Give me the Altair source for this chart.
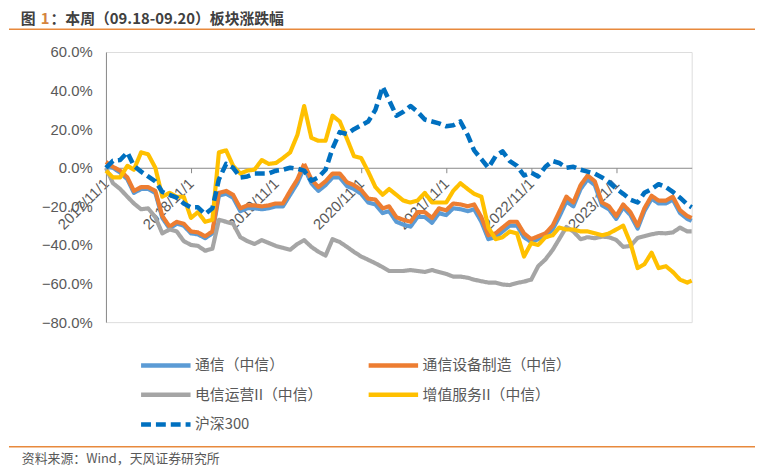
import altair as alt
import pandas as pd

title_pre = "图"
title_num = "1"
title_rest = "：本周（09.18-09.20）板块涨跌幅"
source_text = "资料来源：Wind，天风证券研究所"

series_names = ["通信（中信）", "通信设备制造（中信）", "电信运营II（中信）", "增值服务II（中信）", "沪深300"]
series_colors = ["#5B9BD5", "#ED7D31", "#A5A5A5", "#FFC000", "#0070C0"]
series_dash = [[1, 0], [1, 0], [1, 0], [1, 0], [10, 5]]

# monthly observations 2017-11 ... 2024-09, plus last day 2024-09-20
dates = list(pd.date_range("2017-11-01", periods=83, freq="MS").strftime("%Y/%m/%d")) + ["2024/09/20"]
tick_years = [2017, 2018, 2019, 2020, 2021, 2022, 2023]
y_ticks = [-0.8, -0.6, -0.4, -0.2, 0.0, 0.2, 0.4, 0.6]

tongxin = [0.5, 0, -2.5, -6, -13, -11, -11, -13, -26, -31.5,
           -29, -30, -34, -34.5, -36.5, -34, -14.5, -13.5, -15.5, -22.5,
           -21, -21, -21.5, -21, -20, -20, -14, -8, 0, -8,
           -12, -9, -5, -5, -9.5, -11, -13.5, -18, -19, -23.5,
           -22.5, -28, -29.5, -30.5, -25.5, -25.5, -28.5, -23.5, -24.5, -21,
           -21.5, -22.5, -21.5, -28, -37, -36, -33, -30, -30, -36,
           -38.5, -37, -35.5, -32, -25.5, -17.5, -20, -11, -6, -9,
           -19.5, -21.5, -26.5, -20.5, -24.5, -31.5, -22.5, -16, -18.5, -18.5,
           -16.5, -23.5, -26.5, -27.5]
shebei = [3, 0.5, -1.5, -5, -12, -10, -10, -12, -25, -30.5,
          -28, -29, -33, -33.5, -35.5, -33, -13, -12, -14, -21,
          -19.5, -19.5, -20, -19.5, -18.5, -18.5, -12, -6, 2, -6,
          -10, -7, -3, -3, -7.5, -9, -11.5, -16, -16.5, -21,
          -20, -25.6, -27, -28, -23, -23, -26, -21, -22, -18.5,
          -19, -20, -19, -25.6, -35, -34, -31, -28, -28, -34,
          -37, -35.5, -34, -30, -23, -15, -18, -9, -4, -7,
          -18, -20, -25, -19, -23, -30, -21, -14.5, -17, -17,
          -15, -22, -25, -26]
dianxin = [0, -8, -11, -15, -18.5, -21.5, -21, -25.6, -34, -32,
           -33, -38, -40, -40.5, -43, -42, -27, -28, -29, -36,
           -38, -39.5, -37.5, -39, -40.5, -41.5, -42.5, -39.5, -37.5, -41,
           -43.5, -45.5, -37, -38.5, -41, -43.6, -46, -47.7, -49.5, -51.5,
           -53.5, -53.5, -53.5, -53, -53.5, -54, -53, -54, -55, -56.4,
           -56.4, -57, -58, -58.8, -59.5, -59.5, -60.5, -60.8, -59.7, -59,
           -58, -51, -47.5, -42.6, -37, -30.7, -33, -37, -36, -36.5,
           -35.7, -36, -37.4, -41, -40.5, -36.4, -35.5, -34.5, -33.8, -34,
           -33.5, -31, -33, -33]
zengzhi = [-1.5, -5, -5, 1, -1, 8, 7, 0, -15, -13,
           -15, -15, -26, -23, -28, -27, 8, 9, 1, -3,
           -1.5, -1, 4, 2, 2.5, 5, 8, 17, 32, 15.5,
           14, 14, 27, 24, 15, 6, 5, -2, -10, -14,
           -11, -14, -17, -18, -17, -13, -18, -18, -18, -12,
           -8, -11, -13.5, -15, -31, -37, -36, -33, -34, -46,
           -39, -40, -36, -35, -31, -32, -32, -33, -33, -34,
           -35, -34, -32, -30, -39, -52, -50, -44, -52, -51,
           -54, -58, -59.5, -58.5]
hs300 = [0, 3.6, 4, 8, 1, -2, -4.5, -7, -12.5, -14,
         -15.5, -18.5, -20.5, -20.5, -24, -21, -6, 2, 0, -5,
         -4.5, -3, -3, -3, -1.5, -1, 0, -0.5, -1.5, -6.7,
         -5, -1, 10, 18.5, 17.5, 20, 22, 24, 30, 42,
         35, 27, 29, 32, 29, 25, 24, 23, 21.5, 22,
         24, 17, 9, 4.5, 0, 6, 8.5, 3.5, 1, -4,
         -2.5, -4.5, 0.5, 3.5, 2.5, 0, 0.5, -1, -2, -3,
         -5, -7.5, -10.8, -13.5, -16.5, -18, -13, -11, -8.5, -10,
         -12.5, -15.5, -19, -20.5]

series_values = [tongxin, shebei, dianxin, zengzhi, hs300]

rows = []
for name, vals in zip(series_names, series_values):
    for d, v in zip(dates, vals):
        rows.append({"date": d, "series": name, "value": v / 100.0})
df = pd.DataFrame(rows)

W, H = 592, 273
ZERO_OFFSET = -round(H * 80 / 140)

x_enc = alt.X(
    "date:T",
    scale=alt.Scale(domain=[alt.DateTime(year=2017, month=11, date=1),
                            alt.DateTime(year=2024, month=9, date=20)]),
    axis=alt.Axis(
        values=[alt.DateTime(year=y, month=11, date=1) for y in tick_years],
        format="%Y/%-m/%-d", labelAngle=-45, labelAlign="right", labelBaseline="middle",
        offset=ZERO_OFFSET, tickSize=5, labelPadding=8, grid=False, title=None,
        domainColor="#898989", tickColor="#898989", labelColor="#595959",
        labelFontSize=15, labelFont="Liberation Sans", labelOverlap=False,
    ),
)
y_enc = alt.Y(
    "value:Q",
    scale=alt.Scale(domain=[-0.8, 0.6], nice=False, zero=False),
    axis=alt.Axis(values=y_ticks, format=".1%", ticks=False, labelPadding=14, grid=False,
                  title=None, domainColor="#898989", labelColor="#595959",
                  labelFontSize=15, labelFont="Liberation Sans"),
)
legend = alt.Legend(
    title=None, orient="none", legendX=53, legendY=309, columns=2, direction="horizontal",
    symbolType="M-5,0L5,0", symbolSize=100, symbolStrokeWidth=4.5,
    labelFontSize=15, labelColor="#595959", labelFont="Noto Sans CJK SC",
    columnPadding=37, rowPadding=11, labelOffset=22, labelLimit=400,
)
color_enc = alt.Color("series:N", scale=alt.Scale(domain=series_names, range=series_colors), legend=legend)
dash_enc = alt.StrokeDash("series:N", scale=alt.Scale(domain=series_names, range=series_dash), legend=legend)

base = alt.Chart(df).encode(x=x_enc, y=y_enc, color=color_enc, strokeDash=dash_enc)
line_layers = []
for name in series_names:
    sw = 4.6 if name == "沪深300" else 4.2
    line_layers.append(
        base.transform_filter(alt.datum.series == name).mark_line(strokeWidth=sw, strokeJoin="round")
    )

one = pd.DataFrame({"a": [0]})
title_font = "Noto Sans CJK SC"
TY = -33
t1 = alt.Chart(pd.DataFrame({"t": [title_pre]})).mark_text(
    align="left", baseline="middle", font=title_font, fontSize=15, fontWeight="bold", color="#404040"
).encode(text="t:N", x=alt.value(-86), y=alt.value(TY))
t2 = alt.Chart(pd.DataFrame({"t": [title_num]})).mark_text(
    align="left", baseline="middle", font=title_font, fontSize=15, fontWeight="bold", color="#D4843E"
).encode(text="t:N", x=alt.value(-66), y=alt.value(TY))
t3 = alt.Chart(pd.DataFrame({"t": [title_rest]})).mark_text(
    align="left", baseline="middle", font=title_font, fontSize=15, fontWeight="bold", color="#404040"
).encode(text="t:N", x=alt.value(-56), y=alt.value(TY))
src = alt.Chart(pd.DataFrame({"t": [source_text]})).mark_text(
    align="left", baseline="middle", font=title_font, fontSize=13, color="#595959"
).encode(text="t:N", x=alt.value(-85), y=alt.value(411))
top_rule = alt.Chart(one).mark_rule(color="#E8893C", strokeWidth=1.5).encode(
    x=alt.value(-98), x2=alt.value(660), y=alt.value(-23))
bot_rule = alt.Chart(one).mark_rule(color="#E8893C", strokeWidth=1.5).encode(
    x=alt.value(-98), x2=alt.value(660), y=alt.value(399))

chart = alt.layer(*line_layers, t1, t2, t3, src, top_rule, bot_rule).properties(
    width=W, height=H,
    autosize=alt.AutoSizeParams(type="none"),
    padding={"left": 99, "top": 42, "right": 64, "bottom": 149},
).configure_view(stroke=None).configure(background="white")

chart.save("out.html", embed_options={"renderer": "svg", "actions": False})
